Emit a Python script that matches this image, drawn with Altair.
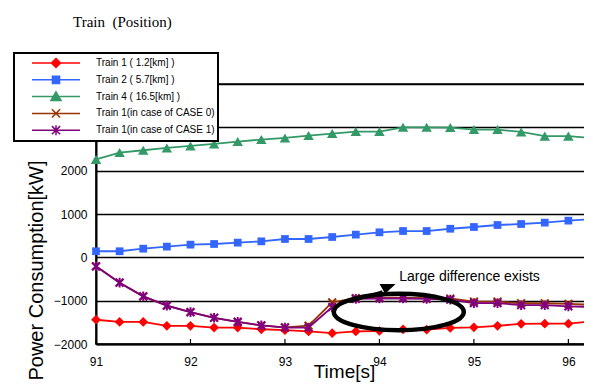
import altair as alt
import pandas as pd

# ---------------- data ----------------
time_s = [91.0, 91.25, 91.5, 91.75, 92.0, 92.25, 92.5, 92.75, 93.0, 93.25, 93.5,
          93.75, 94.0, 94.25, 94.5, 94.75, 95.0, 95.25, 95.5, 95.75, 96.0, 96.25]
train1 = [-1440, -1490, -1490, -1580, -1580, -1620, -1620, -1660, -1680, -1710, -1750,
          -1710, -1700, -1660, -1670, -1630, -1615, -1580, -1535, -1530, -1530, -1475]
train2 = [140, 140, 200, 247, 293, 308, 339, 369, 423, 423, 469,
          524, 577, 607, 607, 660, 700, 746, 769, 801, 847, 884]
train4 = [2260, 2418, 2471, 2524, 2571, 2617, 2672, 2718, 2755, 2810, 2856,
          2903, 2903, 3000, 3000, 2995, 2949, 2949, 2894, 2798, 2798, 2750]
case0 = [-208, -585, -900, -1115, -1265, -1395, -1490, -1570, -1615, -1575, -1040,
         -940, -930, -930, -940, -950, -1020, -1020, -1060, -1060, -1075, -1095]
case1 = [-208, -585, -900, -1115, -1265, -1395, -1490, -1570, -1620, -1620, -1150,
         -960, -950, -950, -960, -975, -1055, -1055, -1105, -1105, -1130, -1145]

series_names = ["Train 1 ( 1.2[km] )", "Train 2 ( 5.7[km] )", "Train 4 ( 16.5[km] )",
                "Train 1(in case of CASE 0)", "Train 1(in case of CASE 1)"]
series_values = [train1, train2, train4, case0, case1]
series_colors = ["#ff0000", "#3366ff", "#339966", "#993300", "#800080"]

x_ticks = [91, 92, 93, 94, 95, 96]
y_ticks = [-2000, -1000, 0, 1000, 2000, 3000, 4000]

annotation_text = ["Large difference exists"]
annotation_text_time = [94.21]
annotation_text_value = [-535]
ellipse_time = [94.205]
ellipse_value = [-1262]
arrow_time = [93.682, 93.830, 94.031]
arrow_value = [-1032, -928, -789]
head_time = [94.086]
head_value = [-727]

SANS = "Liberation Sans"
SERIF = "Liberation Serif"

# plot marker shapes
plot_shapes = ["diamond", "square", "triangle-up",
               "M-1,-1L1,1M-1,1L1,-1",
               "M-1,-1L1,1M-1,1L1,-1M0,-1.25L0,1.25"]
plot_sizes = [95, 60, 110, 60, 60]
plot_filled = [True, True, True, False, False]

# legend symbols: line + marker
legend_shapes = [
    "M-1,0L1,0M0,-0.19L0.19,0L0,0.19L-0.19,0Z",
    "M-1,0L1,0M-0.15,-0.15L0.15,-0.15L0.15,0.15L-0.15,0.15Z",
    "M-1,0L1,0M0,-0.2L0.21,0.16L-0.21,0.16Z",
    "M-1,0L1,0M-0.17,-0.17L0.17,0.17M-0.17,0.17L0.17,-0.17",
    "M-1,0L1,0M-0.17,-0.17L0.17,0.17M-0.17,0.17L0.17,-0.17M0,-0.21L0,0.21",
]

rows = []
for name, vals in zip(series_names, series_values):
    for t, v in zip(time_s, vals):
        rows.append({"time": t, "value": v, "series": name})
df = pd.DataFrame(rows)

# ---------------- encodings ----------------
x_enc = alt.X("time:Q",
              scale=alt.Scale(domain=[91, 96.25], nice=False, zero=False),
              axis=alt.Axis(values=x_ticks, format="d", title="Time[s]", grid=False,
                            tickSize=0, labelPadding=21, labelBaseline="alphabetic",
                            labelFontSize=12, titleFontSize=19, titleY=33,
                            titleBaseline="alphabetic", domainWidth=2,
                            labelFlush=False))
y_enc = alt.Y("value:Q",
              scale=alt.Scale(domain=[-2000, 4000], nice=False, zero=False),
              axis=alt.Axis(values=y_ticks, format="d", title="Power Consumption[kW]",
                            grid=True, gridColor="black", gridWidth=1.3, gridOpacity=1,
                            tickSize=0, labelPadding=9, labelFontSize=12,
                            titleFontSize=20, titleX=-60, titleY=186,
                            titleAngle=270, titleAlign="center",
                            titleBaseline="middle", domainWidth=2))

layers = []
for name, color, shp, size, filled in zip(series_names, series_colors, plot_shapes,
                                          plot_sizes, plot_filled):
    sub = alt.Chart(df).transform_filter(alt.datum.series == name)
    layers.append(sub.mark_line(color=color, strokeWidth=1.8).encode(x=x_enc, y=y_enc))
    if filled:
        pts = sub.mark_point(shape=shp, size=size, filled=True, color=color, opacity=1)
    else:
        pts = sub.mark_point(shape=shp, size=size, filled=False, color=color,
                             strokeWidth=2, opacity=1)
    layers.append(pts.encode(x=x_enc, y=y_enc))

# inward x ticks
tick_df = pd.DataFrame({"time": x_ticks})
layers.append(alt.Chart(tick_df).mark_rule(color="black", strokeWidth=1.2).encode(
    x=x_enc, y=alt.value(260), y2=alt.value(255)))

# annotation
ann_df = pd.DataFrame({"time": annotation_text_time, "value": annotation_text_value,
                       "label": annotation_text})
layers.append(alt.Chart(ann_df).mark_text(align="left", baseline="alphabetic",
                                          font=SANS, fontSize=14, color="black").encode(
    x=x_enc, y=y_enc, text="label:N"))
ell_df = pd.DataFrame({"time": ellipse_time, "value": ellipse_value})
layers.append(alt.Chart(ell_df).mark_point(
    shape="M-1,0A1,0.28 0 1,1 1,0A1,0.28 0 1,1 -1,0Z", size=16900, filled=False,
    color="black", strokeWidth=4.5, opacity=1).encode(x=x_enc, y=y_enc))
arr_df = pd.DataFrame({"time": arrow_time, "value": arrow_value})
layers.append(alt.Chart(arr_df).mark_line(color="black", strokeWidth=2.5,
                                          interpolate="monotone").encode(x=x_enc, y=y_enc))
head_df = pd.DataFrame({"time": head_time, "value": head_value})
layers.append(alt.Chart(head_df).mark_point(
    shape="M-1,-0.6L1,-0.6L-0.3,0.6Z", size=256, filled=True, color="black",
    opacity=1).encode(x=x_enc, y=y_enc))

# legend layer (no marks, legend only)
leg = alt.Legend(orient="none", legendX=-82, legendY=-31, title=None, padding=3,
                 symbolOffset=14, labelOffset=15, clipHeight=14, rowPadding=2.8,
                 symbolSize=2304, symbolStrokeWidth=1.5, labelFontSize=10,
                 labelFont=SANS, labelColor="black", strokeColor="black",
                 fillColor="white", labelLimit=400, symbolOpacity=1,
                 labelExpr="datum.label + '\u00a0\u00a0\u00a0\u00a0'")
color_scale = alt.Scale(domain=series_names, range=series_colors)
layers.append(alt.Chart(df).transform_filter("false").mark_point(opacity=1).encode(
    x=x_enc, y=y_enc,
    fill=alt.Fill("series:N", scale=color_scale, legend=leg, sort=None),
    stroke=alt.Stroke("series:N", scale=color_scale, legend=leg, sort=None),
    shape=alt.Shape("series:N", scale=alt.Scale(domain=series_names, range=legend_shapes),
                    legend=leg, sort=None)))

chart = alt.layer(*layers).properties(
    width=496, height=260,
    autosize=alt.AutoSizeParams(type="none"),
    padding={"left": 88, "top": 76, "right": -8, "bottom": 38},
    title=alt.Title("Train\u00a0\u00a0(Position)", anchor="start", frame="group", dx=-23,
                    offset=10.5, font=SERIF, fontSize=15, fontWeight="normal",
                    color="black", baseline="alphabetic"),
).configure_view(stroke="black", strokeWidth=1.5).configure_axis(
    labelFont=SANS, titleFont=SANS, labelColor="black", titleColor="black",
    titleFontWeight="normal", domainColor="black"
).configure_legend(strokeWidth=2)

chart.save("out.html", embed_options={"renderer": "svg", "actions": False})
